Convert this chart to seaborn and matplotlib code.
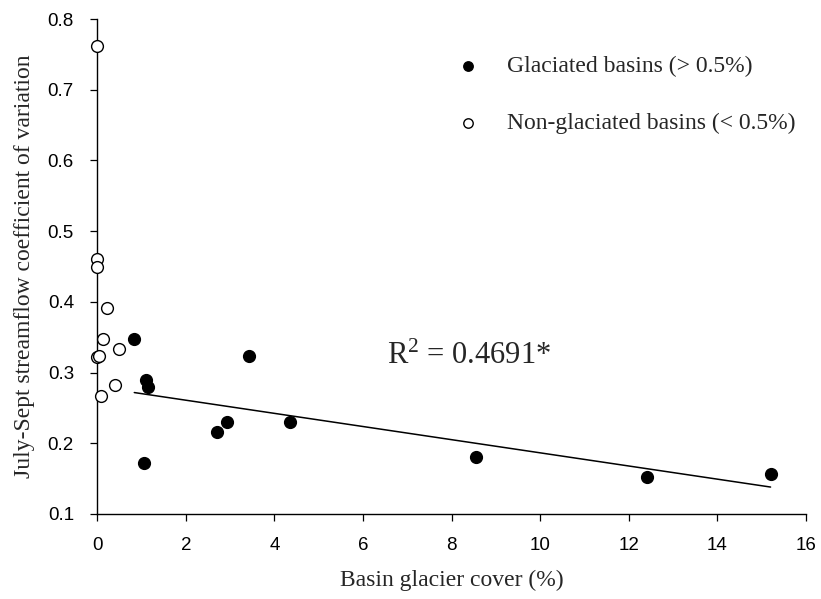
import matplotlib
matplotlib.use("Agg")
import matplotlib.pyplot as plt
import seaborn as sns
import pandas as pd

# ---- data ----
glac_x = [0.835, 1.054, 1.106, 1.138, 2.70, 2.92, 3.43, 4.35, 8.56, 12.42, 15.20]
glac_y = [0.347, 0.172, 0.289, 0.279, 0.216, 0.230, 0.324, 0.230, 0.180, 0.152, 0.156]
nong_x = [0.0, 0.0, 0.0, 0.226, 0.122, 0.483, 0.0, 0.03, 0.40, 0.077]
nong_y = [0.762, 0.461, 0.450, 0.392, 0.348, 0.334, 0.322, 0.324, 0.283, 0.267]
x_ticks = [0, 2, 4, 6, 8, 10, 12, 14, 16]
y_ticks = [0.1, 0.2, 0.3, 0.4, 0.5, 0.6, 0.7, 0.8]
label_glac = "Glaciated basins (> 0.5%)"
label_nong = "Non-glaciated basins (< 0.5%)"
r2_text = "R$^2$ = 0.4691*"

sns.set_style("ticks")
plt.rcParams["font.family"] = ["Liberation Serif", "DejaVu Serif"]
plt.rcParams["mathtext.fontset"] = "custom"
plt.rcParams["mathtext.rm"] = "Liberation Serif"
plt.rcParams["mathtext.it"] = "Liberation Serif"

fig = plt.figure(figsize=(8.21, 5.99), dpi=100)
L, R, T, B = 97.3, 806.0, 19.0, 514.0
ax = fig.add_axes([L / 821, 1 - B / 599, (R - L) / 821, (B - T) / 599])

df_g = pd.DataFrame({"x": glac_x, "y": glac_y})
df_n = pd.DataFrame({"x": nong_x, "y": nong_y})

sns.regplot(data=df_g, x="x", y="y", scatter=False, ci=None, ax=ax,
            color="black", line_kws=dict(lw=1.1, zorder=2))
sns.scatterplot(data=df_n, x="x", y="y", ax=ax, marker="o", s=72,
                facecolor="white", edgecolor="black", linewidth=1.0,
                label=label_nong, clip_on=False, zorder=4)
sns.scatterplot(data=df_g, x="x", y="y", ax=ax, marker="o", s=72,
                color="black", edgecolor="black", linewidth=1.0,
                label=label_glac, clip_on=False, zorder=4)

ax.set_xlim(0, 16)
ax.set_ylim(0.1, 0.8)
ax.set_xticks(x_ticks)
ax.set_yticks(y_ticks)
ax.set_xticklabels([str(v) for v in x_ticks])
ax.set_yticklabels([f"{v:.1f}" for v in y_ticks])
sns.despine(ax=ax)
for s in ["left", "bottom"]:
    ax.spines[s].set_linewidth(1.0)
    ax.spines[s].set_color("black")
ax.tick_params(axis="both", direction="out", length=4.8, width=0.9, colors="black",
               labelsize=13.5)
ax.tick_params(axis="x", pad=12)
ax.tick_params(axis="y", pad=12)
for lab in ax.get_xticklabels() + ax.get_yticklabels():
    lab.set_fontfamily(["Liberation Sans", "DejaVu Sans"])

ax.set_xlabel("Basin glacier cover (%)", fontsize=17, labelpad=11)
ax.set_ylabel("July-Sept streamflow coefficient of variation", fontsize=17, labelpad=9)

ax.text(6.53, 0.312, r2_text, fontsize=22, ha="left", va="baseline")

h, l = ax.get_legend_handles_labels()
order = [l.index(label_glac), l.index(label_nong)]
leg = ax.legend([h[i] for i in order], [l[i] for i in order],
                loc="upper left", bbox_to_anchor=(456 / 821, 1 - 56 / 599),
                bbox_transform=fig.transFigure, frameon=False, fontsize=17,
                handlelength=1.0, handletextpad=1.15, labelspacing=1.5,
                borderpad=0, borderaxespad=0, markerscale=0.8)

fig.savefig("out.png", dpi=100)
